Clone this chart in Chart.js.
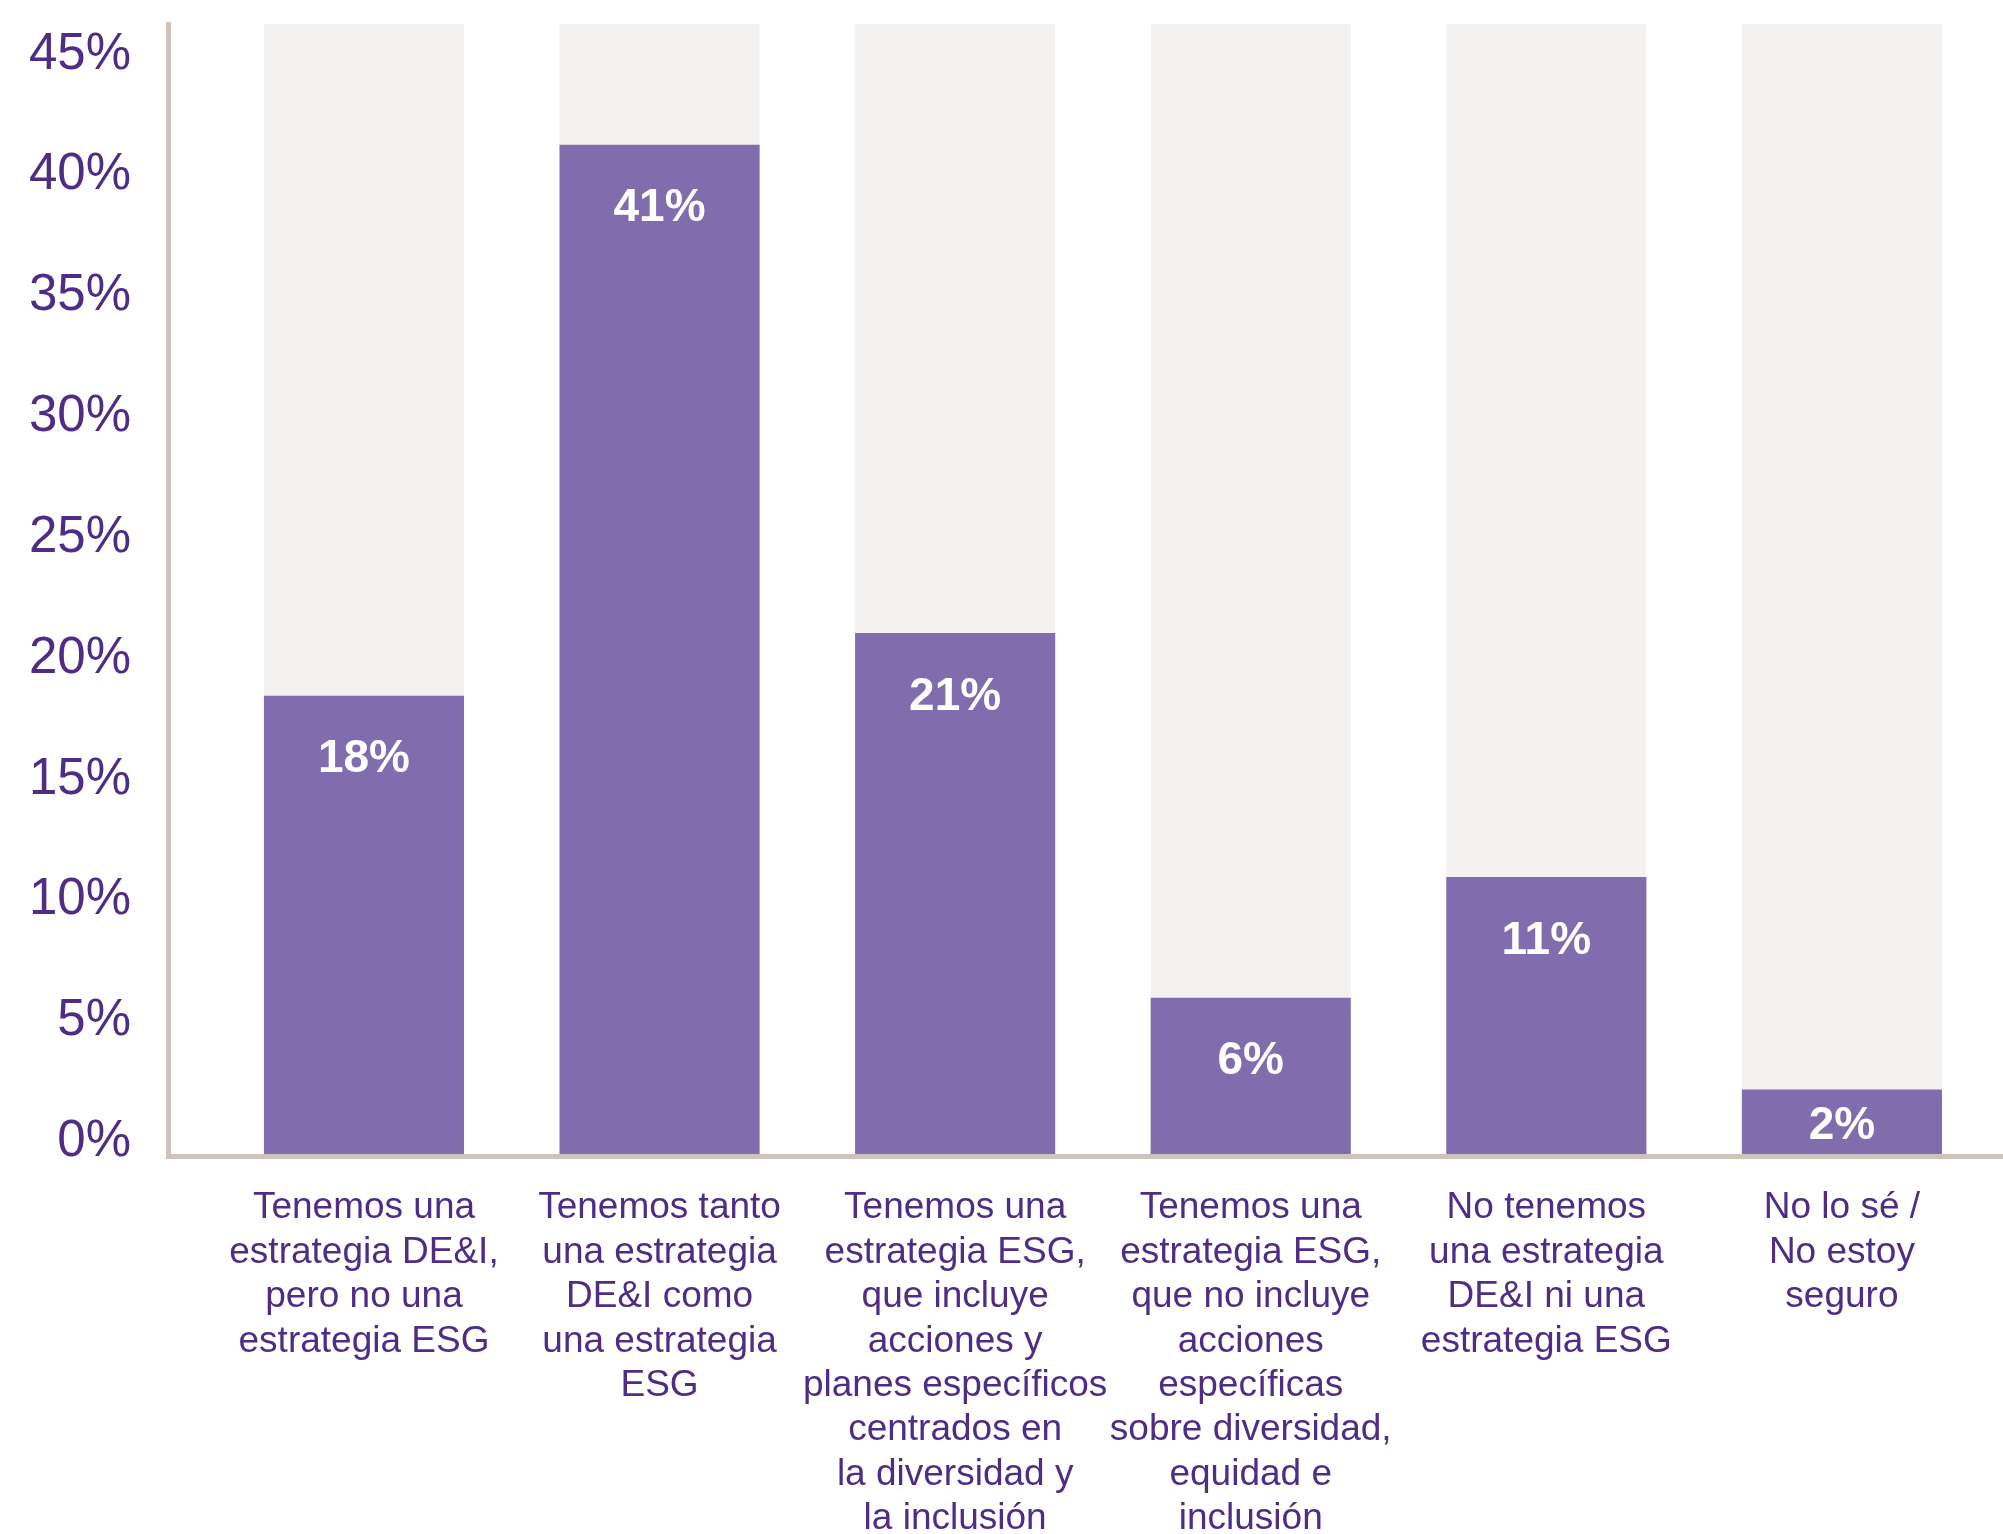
<!DOCTYPE html>
<html>
<head>
<meta charset="utf-8">
<script src="https://cdn.jsdelivr.net/npm/chart.js@4/dist/chart.umd.min.js"></script>
<style>
  html, body { margin: 0; padding: 0; background: #fff; }
  #wrap { width: 2003px; height: 1534px; position: relative; }
</style>
</head>
<body>
<div id="wrap"><canvas id="deiChart"></canvas></div>
<script>
// categories (one entry per line of the axis label)
const CATEGORIES = [
  ['Tenemos una', 'estrategia DE&I,', 'pero no una', 'estrategia ESG'],
  ['Tenemos tanto', 'una estrategia', 'DE&I como', 'una estrategia', 'ESG'],
  ['Tenemos una', 'estrategia ESG,', 'que incluye', 'acciones y', 'planes específicos', 'centrados en', 'la diversidad y', 'la inclusión'],
  ['Tenemos una', 'estrategia ESG,', 'que no incluye', 'acciones', 'específicas', 'sobre diversidad,', 'equidad e', 'inclusión'],
  ['No tenemos', 'una estrategia', 'DE&I ni una', 'estrategia ESG'],
  ['No lo sé /', 'No estoy', 'seguro']
];

// share of respondents (%)
const VALUES = [18.3, 41.1, 20.9, 5.8, 10.8, 2.0];

// light grey track behind each bar
const TRACK_VALUES = [46.1, 46.1, 46.1, 46.1, 46.1, 46.1];

// value axis
const Y_MIN = -0.75;
const Y_MAX = 46.1;
const Y_STEP = 5;

// category positions on a linear axis
const X_MIN = -0.663;
const X_MAX = 5.545;

const PURPLE_TEXT = '#4f2c85';
const PURPLE_BAR = '#816dad';
const TRACK_GREY = '#f3f2f0';
const AXIS_COLOR = '#cec4bb';
const FONT = "'Liberation Sans', Arial, sans-serif";

const toPoints = arr => arr.map((v, i) => ({ x: i, y: v }));

// white % label inside each purple bar
const barLabels = {
  id: 'barLabels',
  afterDatasetsDraw(chart) {
    const meta = chart.getDatasetMeta(0);
    const ctx = chart.ctx;
    ctx.save();
    ctx.fillStyle = '#ffffff';
    ctx.font = "bold 46px 'Liberation Sans Narrow', 'Liberation Sans', Arial, sans-serif";
    ctx.textAlign = 'center';
    ctx.textBaseline = 'middle';
    meta.data.forEach((bar, i) => {
      const y = Math.min(bar.y + 64, bar.base - 30);
      ctx.fillText(Math.round(VALUES[i]) + '%', bar.x, y);
    });
    ctx.restore();
  }
};

const ctx = document.getElementById('deiChart');
new Chart(ctx.getContext('2d'), {
  type: 'bar',
  data: {
    datasets: [
      {
        label: 'Respuestas',
        data: toPoints(VALUES),
        backgroundColor: PURPLE_BAR,
        borderWidth: 0,
        base: Y_MIN,
        grouped: false,
        categoryPercentage: 1,
        barPercentage: 0.677,
        order: 0
      },
      {
        label: 'Fondo',
        data: toPoints(TRACK_VALUES),
        backgroundColor: TRACK_GREY,
        borderWidth: 0,
        base: Y_MIN,
        grouped: false,
        categoryPercentage: 1,
        barPercentage: 0.677,
        order: 1
      }
    ]
  },
  options: {
    responsive: true,
    maintainAspectRatio: false,
    animation: false,
    layout: { padding: { top: 24, left: 0, right: 0, bottom: 0 } },
    plugins: {
      legend: { display: false },
      tooltip: { enabled: false }
    },
    scales: {
      x: {
        type: 'linear',
        min: X_MIN,
        max: X_MAX,
        offset: false,
        grid: { display: false, drawTicks: false, offset: false },
        border: { display: true, color: AXIS_COLOR, width: 5, z: 1 },
        ticks: {
          stepSize: 1,
          includeBounds: false,
          autoSkip: false,
          maxRotation: 0,
          minRotation: 0,
          padding: 30,
          color: PURPLE_TEXT,
          font: { family: FONT, size: 37, lineHeight: 1.2 },
          callback: function (value) {
            return Number.isInteger(value) ? CATEGORIES[value] : '';
          }
        },
        afterFit: function (scale) {
          scale.height = 378;
          scale.paddingLeft = 0;
          scale.paddingRight = 0;
        }
      },
      y: {
        min: Y_MIN,
        max: Y_MAX,
        grid: { display: false, drawTicks: false },
        border: { display: true, color: AXIS_COLOR, width: 5, z: 1 },
        ticks: {
          stepSize: Y_STEP,
          includeBounds: false,
          padding: 37,
          labelOffset: 4,
          color: PURPLE_TEXT,
          font: { family: FONT, size: 51 },
          callback: function (value) {
            return value + '%';
          }
        },
        afterFit: function (scale) {
          scale.width = 168;
          scale.paddingTop = 0;
          scale.paddingBottom = 0;
        }
      }
    }
  },
  plugins: [barLabels]
});
</script>
</body>
</html>
